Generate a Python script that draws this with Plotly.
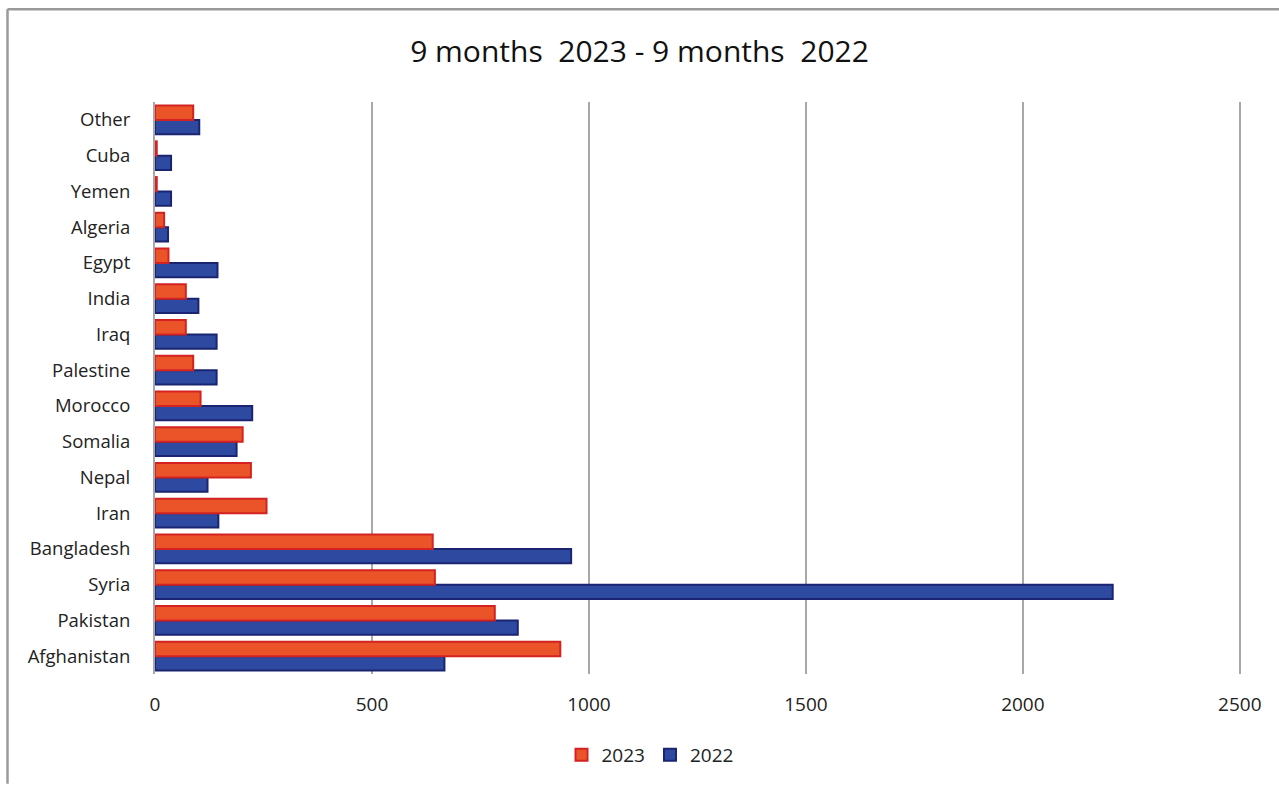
import plotly.graph_objects as go

countries = ["Afghanistan", "Pakistan", "Syria", "Bangladesh", "Iran", "Nepal",
             "Somalia", "Morocco", "Palestine", "Iraq", "India", "Egypt",
             "Algeria", "Yemen", "Cuba", "Other"]
values_2023 = [934, 783, 645, 640, 257, 221, 202, 105, 88, 71, 71, 31, 21, 4, 4, 88]
values_2022 = [667, 836, 2207, 959, 146, 121, 188, 224, 142, 142, 100, 144, 30, 37, 37, 102]
x_ticks = [0, 500, 1000, 1500, 2000, 2500]

W, H = 1279, 785
ML, MR, MT, MB = 155, 37, 102, 110
PW, PH = W - ML - MR, H - MT - MB

fig = go.Figure()
fig.add_trace(go.Bar(
    y=countries, x=values_2022, name="2022", orientation="h",
    marker=dict(color="#2d4aa0", line=dict(color="#1b2470", width=2)),
    legendrank=2,
))
fig.add_trace(go.Bar(
    y=countries, x=values_2023, name="2023", orientation="h",
    marker=dict(color="#ea5428", line=dict(color="#d42222", width=2)),
    legendrank=1,
))

fig.update_layout(
    width=W, height=H,
    paper_bgcolor="white", plot_bgcolor="white",
    margin=dict(l=ML, r=MR, t=MT, b=MB),
    barmode="group", bargap=0.2, bargroupgap=0,
    font=dict(family="Open Sans, Noto Sans, sans-serif", color="#222222"),
    title=dict(text="9 months  2023 - 9 months  2022", x=0.5, xanchor="center",
               y=0.935, yanchor="middle", font=dict(size=30, color="#111111")),
    legend=dict(orientation="h", x=(650 - ML) / PW, xanchor="center",
                y=-(755 - MT - PH) / PH, yanchor="middle",
                font=dict(size=19), itemwidth=30),
    showlegend=True,
)
fig.update_xaxes(
    range=[0, 2505], tickvals=x_ticks, ticktext=[str(v) for v in x_ticks],
    showgrid=True, gridcolor="#a8a8a8", gridwidth=2,
    zeroline=False, showline=False, ticks="", ticklabelstandoff=17,
    tickfont=dict(size=19, color="#222222"),
)
fig.update_yaxes(
    categoryorder="array", categoryarray=countries,
    showgrid=False, showline=True, linecolor="#a8a8a8", linewidth=2,
    ticks="", ticklabelstandoff=19, tickfont=dict(size=18.5, color="#222222"),
)
# chart frame: top and left edges
fx0 = (7.5 - ML) / PW
fy_top = 1 + (MT - 9) / PH
fig.add_shape(type="line", xref="paper", yref="paper",
              x0=fx0, x1=1 + MR / PW, y0=fy_top, y1=fy_top,
              line=dict(color="#9a9a9a", width=2.5))
fig.add_shape(type="line", xref="paper", yref="paper",
              x0=fx0, x1=fx0, y0=fy_top, y1=-MB / PH,
              line=dict(color="#9a9a9a", width=2.5))

fig.write_html("out.html")
